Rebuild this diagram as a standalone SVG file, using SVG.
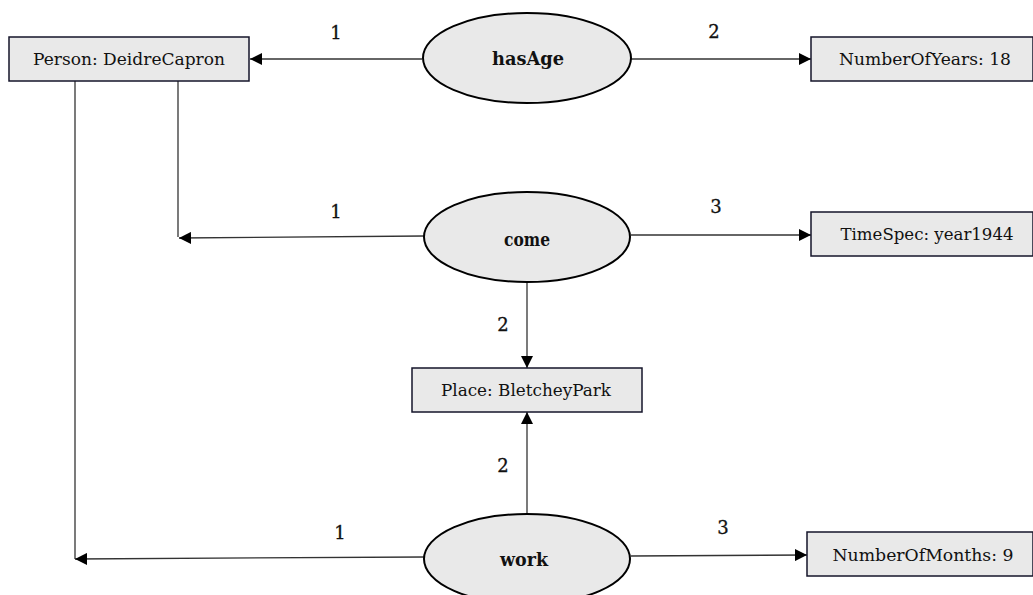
<svg xmlns="http://www.w3.org/2000/svg" width="1033" height="595" viewBox="0 0 1033 595">
<style>
.box{fill:#e9e9e9;stroke:#14142a;stroke-width:1.5}
.ell{fill:#e9e9e9;stroke:#000;stroke-width:2}
.t{font-family:"DejaVu Serif","Liberation Serif",serif;font-size:17px;fill:#111;text-anchor:middle}
.b{font-family:"DejaVu Serif","Liberation Serif",serif;font-size:18px;font-weight:bold;fill:#111;text-anchor:middle}
.n{font-family:"DejaVu Serif","Liberation Serif",serif;font-size:18px;fill:#111;text-anchor:middle;stroke:#111;stroke-width:0.3}
.c{fill:none;stroke:#333;stroke-width:1.3}
</style>
<defs>
<marker id="arr" viewBox="0 0 10 10" refX="10" refY="5" markerWidth="12" markerHeight="12" markerUnits="userSpaceOnUse" orient="auto">
<path d="M0,0 L10,5 L0,10 z" fill="#000"/>
</marker>
</defs>
<rect width="1033" height="595" fill="#fff"/>
<g id="connectors">
<line class="c" x1="422" y1="59" x2="250" y2="59" marker-end="url(#arr)"/>
<line class="c" x1="631" y1="59" x2="811" y2="59" marker-end="url(#arr)"/>
<polyline class="c" points="178,81 178,237"/>
<line class="c" x1="424" y1="236" x2="179" y2="238" marker-end="url(#arr)"/>
<line class="c" x1="631" y1="235" x2="811" y2="235" marker-end="url(#arr)"/>
<line class="c" x1="527" y1="282" x2="527" y2="368" marker-end="url(#arr)"/>
<line class="c" x1="527" y1="514" x2="527" y2="412" marker-end="url(#arr)"/>
<polyline class="c" points="75,81 75,559"/>
<line class="c" x1="424" y1="557" x2="75" y2="559" marker-end="url(#arr)"/>
<line class="c" x1="631" y1="556" x2="807" y2="555" marker-end="url(#arr)"/>
<text class="n" x="336" y="39">1</text>
<text class="n" x="714" y="38">2</text>
<text class="n" x="336" y="218">1</text>
<text class="n" x="716" y="213">3</text>
<text class="n" x="503" y="331">2</text>
<text class="n" x="503" y="472">2</text>
<text class="n" x="340" y="539">1</text>
<text class="n" x="723" y="534">3</text>
</g>
<g id="person">
<rect class="box" x="9" y="37" width="240" height="44"/>
<text class="t" x="129" y="65" textLength="192" lengthAdjust="spacingAndGlyphs">Person: DeidreCapron</text>
</g>
<g id="hasAge">
<ellipse class="ell" cx="527" cy="58" rx="104" ry="45"/>
<text class="b" x="528" y="65" textLength="72" lengthAdjust="spacingAndGlyphs">hasAge</text>
</g>
<g id="numberOfYears">
<rect class="box" x="811" y="37" width="222" height="44"/>
<text class="t" x="925" y="65" textLength="172" lengthAdjust="spacingAndGlyphs">NumberOfYears: 18</text>
</g>
<g id="come">
<ellipse class="ell" cx="527" cy="237" rx="103" ry="45"/>
<text class="b" x="527" y="246" textLength="46" lengthAdjust="spacingAndGlyphs">come</text>
</g>
<g id="timeSpec">
<rect class="box" x="811" y="212" width="222" height="44"/>
<text class="t" x="927" y="240" textLength="173" lengthAdjust="spacingAndGlyphs">TimeSpec: year1944</text>
</g>
<g id="place">
<rect class="box" x="412" y="368" width="230" height="44"/>
<text class="t" x="526" y="396" textLength="170" lengthAdjust="spacingAndGlyphs">Place: BletcheyPark</text>
</g>
<g id="work">
<ellipse class="ell" cx="527" cy="559" rx="103" ry="45"/>
<text class="b" x="524" y="566" textLength="48" lengthAdjust="spacingAndGlyphs">work</text>
</g>
<g id="numberOfMonths">
<rect class="box" x="807" y="532" width="226" height="44"/>
<text class="t" x="923" y="561" textLength="181" lengthAdjust="spacingAndGlyphs">NumberOfMonths: 9</text>
</g>
</svg>
